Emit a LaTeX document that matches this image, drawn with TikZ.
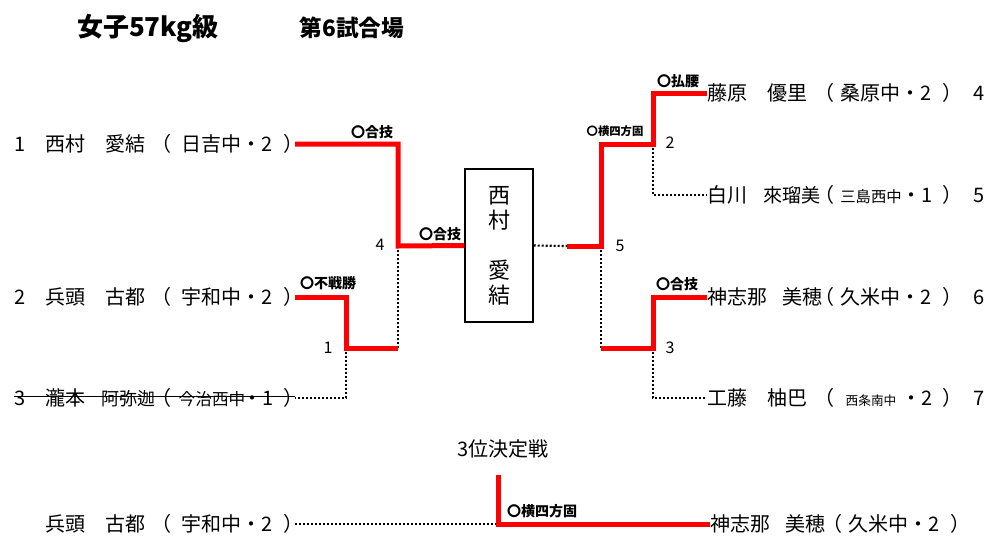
\documentclass[tikz,border=0pt]{standalone}
\usepackage{fontspec}
\setmainfont{Noto Sans CJK JP}
\newcommand{\schl}[4][-0.55em]{\makebox[1em][l]{\kern#1（}\makebox[3em]{#4#2}・\makebox[1.1em][l]{#3}\makebox[0.45em][l]{）}}
\newcommand{\smallA}{\fontsize{11.5}{12}\selectfont}
\newcommand{\smallB}{\fontsize{12.5}{13}\selectfont}
\newcommand{\smallC}{\fontsize{9.5}{10}\selectfont}
\newcommand{\narrow}{\fontsize{13.5}{15}\selectfont}
\newcommand{\narrowB}{\fontsize{14.3}{15}\selectfont}
\begin{document}
\begin{tikzpicture}[x=0.75pt,y=-0.75pt,
  nm/.style={font=\fontsize{15}{18}\selectfont,inner sep=0pt,anchor=west},
  sc/.style={font=\fontsize{15}{18}\selectfont,inner sep=0pt,outer xsep=1.5pt,anchor=east},
  ent/.style={font=\fontsize{15}{18}\selectfont,inner sep=0pt},
  res/.style={font=\bfseries\fontsize{10.5}{12}\selectfont,inner sep=0pt},
  ressm/.style={font=\bfseries\fontsize{8.5}{10}\selectfont,inner sep=0pt},
  mno/.style={font=\fontsize{12}{13}\selectfont,inner sep=0pt},
  win/.style={draw=red,line width=3.75pt},
  lose/.style={draw=black,line width=1.6pt,dash pattern=on 1.5pt off 1.5pt}]
\useasboundingbox (0,0) rectangle (1002,554);

% titles
\node[font=\bfseries\fontsize{19.5}{22}\selectfont,inner sep=0pt] (title) at (148,28) {女子57kg級};
\node[font=\bfseries\fontsize{17}{19}\selectfont,inner sep=0pt] (mat) at (352,28) {第6試合場};

% left entries
\node[ent] (t1) at (20,144) {1};
\node[nm] (n1) at (45,144) {西村　愛結};
\node[sc] (s1) at (295,144) {\schl{日吉中}{2}{}};
\node[ent] (t2) at (20,297) {2};
\node[nm] (n2) at (45,297) {兵頭　古都};
\node[sc] (s2) at (295,297) {\schl{宇和中}{2}{}};
\node[ent] (t3) at (20,398) {3};
\node[nm] (n3) at (45,398) {瀧本\hspace{0.8em}{\narrow 阿弥迦}};
\node[sc] (s3) at (295,398) {\schl{今治西中}{1}{\smallB}};

% right entries
\node[nm] (n4) at (707,93) {藤原　優里};
\node[sc] (s4) at (954,93) {\schl[-0.35em]{桑原中}{2}{}};
\node[ent] (t4) at (979,93) {4};
\node[nm] (n5) at (707,195) {白川\hspace{0.8em}{\narrowB 來瑠美}};
\node[sc] (s5) at (954,195) {\schl[-0.35em]{三島西中}{1}{\smallA}};
\node[ent] (t5) at (979,195) {5};
\node[nm] (n6) at (707,297) {神志那\hspace{0.75em}美穂};
\node[sc] (s6) at (954,297) {\schl[-0.35em]{久米中}{2}{}};
\node[ent] (t6) at (979,297) {6};
\node[nm] (n7) at (707,398) {工藤　柚巴};
\node[sc] (s7) at (954,398) {\schl[-0.35em]{西条南中}{2}{\smallC}};
\node[ent] (t7) at (979,398) {7};

% champion box
\node[draw,line width=1.1pt,minimum width=68*0.75pt,minimum height=153*0.75pt,inner sep=0pt,
  align=center,font=\fontsize{16.5}{18.75}\selectfont] (box) at (499,245.5) {西\\村\\[18.75pt]愛\\結};

% junction points
\coordinate (q4) at (398,246);
\coordinate (q4b) at (398,348);
\coordinate (q1) at (346,348);
\coordinate (q5l) at (567,246);
\coordinate (q5) at (601,246);
\coordinate (q5b) at (601,348);
\coordinate (q2) at (653,144);
\coordinate (q3) at (653,348);

% losing paths (dotted)
\draw[lose] (q4) -- (q4b);
\draw[lose] (q1) |- (s3.east);
\draw[lose] (box.east) -- (q5l);
\draw[lose] (q2) |- (n5.west);
\draw[lose] (q5) -- (q5b);
\draw[lose] (q3) |- (n7.west);

% winning paths (red)
\draw[win] (s1.east) -| (q4) -- (box.west);
\draw[win] (s2.east) -| (q1) -- (q4b);
\draw[win] (q5l) -- (q5) |- (q2) |- (n4.west);
\draw[win] (q5b) -- (q3) |- (n6.west);

% strike-through for withdrawn entry
\draw[line width=0.8pt] ([yshift=1pt]t3.west) -- ([yshift=1pt]s3.east);

% results
\node[res] (r1) at (372,132) {〇合技};
\node[res] (r2) at (328,283) {〇不戦勝};
\node[res] (r3) at (440,234) {〇合技};
\node[ressm] (r4) at (615,131) {〇横四方固};
\node[res] (r5) at (678,81) {〇払腰};
\node[res] (r6) at (677,284) {〇合技};

% match numbers
\node[mno] (m4) at (380,245) {4};
\node[mno] (m1) at (328,348) {1};
\node[mno] (m5) at (620,246) {5};
\node[mno] (m2) at (670,143) {2};
\node[mno] (m3) at (670,348) {3};

% third place bout
\node[font=\fontsize{15}{17}\selectfont,inner sep=0pt] (third) at (503,449) {3位決定戦};
\node[nm] (nb1) at (45,524) {兵頭　古都};
\node[sc] (sb1) at (295,524) {\schl{宇和中}{2}{}};
\node[nm] (nb2) at (710,524) {神志那\hspace{0.75em}美穂};
\node[sc] (sb2) at (962,524) {\schl[-0.35em]{久米中}{2}{}};
\coordinate (qbt) at (498,475);
\coordinate (qb) at (498,524);
\draw[lose] (sb1.east) -- (qb);
\draw[win] (qbt) -- (qb) -- (nb2.west);
\node[res] (rb) at (542,511) {〇横四方固};
\end{tikzpicture}
\end{document}
